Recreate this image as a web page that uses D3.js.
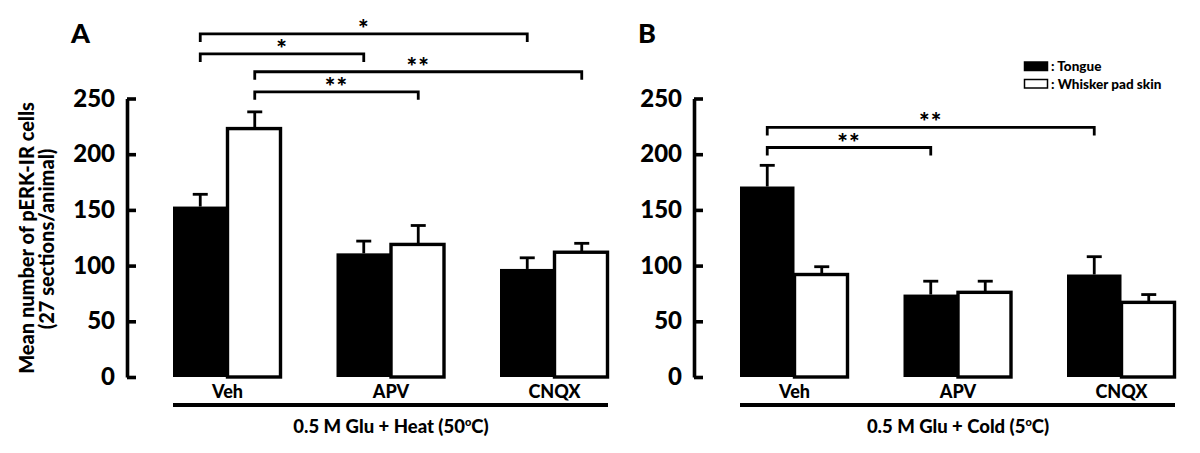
<!DOCTYPE html>
<html>
<head>
<meta charset="utf-8">
<script src="https://cdn.jsdelivr.net/npm/d3@7"></script>
<style>
  html, body { margin: 0; padding: 0; background: #fff; }
  svg { display: block; font-family: Lato, "Open Sans", sans-serif; font-weight: 900; }
</style>
</head>
<body>
<svg id="chart" width="1200" height="453"></svg>
<script>
// ---- data ----
const categories = ["Veh", "APV", "CNQX"];
const seriesNames = ["Tongue", "Whisker pad skin"];
const yTicks = [0, 50, 100, 150, 200, 250];

const heatTongue = [153, 111, 97];
const heatTongueErr = [11, 11, 10];
const heatWhisker = [223, 119, 112];
const heatWhiskerErr = [15, 17, 8];

const coldTongue = [171, 74, 92];
const coldTongueErr = [19, 12, 16];
const coldWhisker = [92, 76, 67];
const coldWhiskerErr = [7, 10, 7];

// significance brackets: [fromCategory, fromSeries, toCategory, toSeries, level (data units), label]
const heatSig = [
  ["Veh", 0, "CNQX", 0, 308, "*"],
  ["Veh", 0, "APV", 0, 290, "*"],
  ["Veh", 1, "CNQX", 1, 274, "**"],
  ["Veh", 1, "APV", 1, 256, "**"]
];
const coldSig = [
  ["Veh", 0, "CNQX", 0, 224, "**"],
  ["Veh", 0, "APV", 0, 206, "**"]
];

const panelLetters = ["A", "B"];
const conditionTitles = ["0.5 M Glu + Heat (50", "0.5 M Glu + Cold (5"];
const yTitle = ["Mean number of pERK-IR cells", "(27 sections/animal)"];

// ---- drawing ----
const svg = d3.select("#chart");
const y = d3.scaleLinear().domain([0, 250]).range([377, 98.5]);

function panel(opts) {
  const g = svg.append("g");
  const x = d3.scaleBand().domain(categories).range([opts.axisX + 46, opts.axisX + 482])
    .paddingInner(1/3).paddingOuter(0);
  const xs = d3.scaleBand().domain([0, 1]).range([0, x.bandwidth()]).padding(0);

  const rows = categories.map((c, i) => ({
    cat: c,
    vals: [opts.tongue[i], opts.whisker[i]],
    errs: [opts.tongueErr[i], opts.whiskerErr[i]]
  }));

  // error bars (upward only)
  rows.forEach(r => {
    [0, 1].forEach(s => {
      const cx = x(r.cat) + xs(s) + xs.bandwidth() / 2;
      g.append("line").attr("x1", cx).attr("x2", cx)
        .attr("y1", y(r.vals[s])).attr("y2", y(r.vals[s] + r.errs[s]))
        .attr("stroke", "#000").attr("stroke-width", 2.8);
      g.append("line").attr("x1", cx - 7.5).attr("x2", cx + 7.5)
        .attr("y1", y(r.vals[s] + r.errs[s])).attr("y2", y(r.vals[s] + r.errs[s]))
        .attr("stroke", "#000").attr("stroke-width", 2.8);
    });
  });

  // bars
  rows.forEach(r => {
    g.append("rect")
      .attr("x", x(r.cat) + xs(0)).attr("y", y(r.vals[0]))
      .attr("width", xs.bandwidth()).attr("height", y(0) - y(r.vals[0]))
      .attr("fill", "#000");
    g.append("rect")
      .attr("x", x(r.cat) + xs(1)).attr("y", y(r.vals[1]))
      .attr("width", xs.bandwidth() - 1.5).attr("height", y(0) - y(r.vals[1]))
      .attr("fill", "#fff").attr("stroke", "#000").attr("stroke-width", 3.4);
  });

  // y axis
  const ax = g.append("g").attr("transform", `translate(${opts.axisX},0)`)
    .call(d3.axisLeft(y).tickValues(yTicks).tickSizeInner(-9).tickSizeOuter(0).tickPadding(12));
  ax.select(".domain").attr("stroke-width", 3.6);
  ax.selectAll(".tick line").attr("stroke-width", 3.6);
  ax.selectAll(".tick text").attr("font-size", 24).attr("font-family", "Lato, sans-serif")
    .attr("font-weight", 900).attr("fill", "#000");

  // category labels
  categories.forEach(c => {
    g.append("text").attr("x", x(c) + x.bandwidth() / 2).attr("y", 398)
      .attr("text-anchor", "middle").attr("font-size", 18).text(c);
  });

  // condition line + title
  const [r0, r1] = x.range();
  g.append("line").attr("x1", r0).attr("x2", r1 - 1).attr("y1", 405).attr("y2", 405)
    .attr("stroke", "#000").attr("stroke-width", 4);
  const t = g.append("text").attr("x", (r0 + r1) / 2).attr("y", 433)
    .attr("text-anchor", "middle").attr("font-size", 18.5);
  t.append("tspan").text(opts.title);
  t.append("tspan").attr("font-size", 11).attr("dy", -7).text("o");
  t.append("tspan").attr("dy", 7).text("C)");

  // panel letter
  g.append("text").attr("x", opts.axisX - 56).attr("y", 43)
    .attr("font-size", 27).attr("font-weight", 900).text(opts.letter);

  // significance brackets
  opts.sig.forEach(s => {
    const xa = x(s[0]) + xs(s[1]) + xs.bandwidth() / 2;
    const xb = x(s[2]) + xs(s[3]) + xs.bandwidth() / 2;
    const yy = y(s[4]);
    g.append("path")
      .attr("d", `M${xa},${yy + 8}V${yy}H${xb}V${yy + 8}`)
      .attr("fill", "none").attr("stroke", "#000").attr("stroke-width", 2.8);
    g.append("text").attr("x", (xa + xb) / 2).attr("y", yy + 4)
      .attr("text-anchor", "middle").attr("font-size", 25)
      .attr("letter-spacing", 1).text(s[5]);
  });
  return g;
}

panel({ axisX: 127, letter: panelLetters[0], title: conditionTitles[0],
  tongue: heatTongue, tongueErr: heatTongueErr, whisker: heatWhisker, whiskerErr: heatWhiskerErr, sig: heatSig });
panel({ axisX: 694, letter: panelLetters[1], title: conditionTitles[1],
  tongue: coldTongue, tongueErr: coldTongueErr, whisker: coldWhisker, whiskerErr: coldWhiskerErr, sig: coldSig });

// y axis title
const yt = svg.append("g");
yt.append("text").attr("transform", "translate(34,238) rotate(-90)")
  .attr("text-anchor", "middle").attr("font-size", 20).text(yTitle[0]);
yt.append("text").attr("transform", "translate(53.5,239) rotate(-90)")
  .attr("text-anchor", "middle").attr("font-size", 20).text(yTitle[1]);

// legend
const legend = svg.append("g");
const legendFills = ["#000", "#fff"];
seriesNames.forEach((n, i) => {
  const ly = 62 + i * 17.5;
  legend.append("rect").attr("x", 1024.5).attr("y", ly).attr("width", 23).attr("height", 8.5)
    .attr("fill", legendFills[i]).attr("stroke", "#000").attr("stroke-width", 1.5);
  legend.append("text").attr("x", 1051).attr("y", ly + 9).attr("font-size", 13.5).text(": " + n);
});
</script>
</body>
</html>
